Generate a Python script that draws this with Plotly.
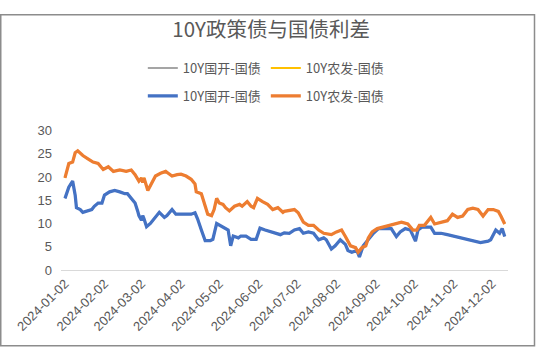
import plotly.graph_objects as go

# ---- data ----
cdb_dates = ["2024-01-02","2024-01-05","2024-01-08","2024-01-10","2024-01-11","2024-01-14","2024-01-16",
    "2024-01-19","2024-01-23","2024-01-25","2024-01-28","2024-01-31","2024-02-02","2024-02-06","2024-02-10",
    "2024-02-14","2024-02-18","2024-02-20","2024-02-23","2024-02-26","2024-02-28","2024-02-29","2024-03-02",
    "2024-03-03","2024-03-04","2024-03-06","2024-03-09","2024-03-13","2024-03-16","2024-03-20","2024-03-22",
    "2024-03-26","2024-03-29","2024-04-02","2024-04-06","2024-04-10","2024-04-13","2024-04-15","2024-04-18",
    "2024-04-21","2024-04-25","2024-04-27","2024-04-30","2024-05-02","2024-05-06","2024-05-09","2024-05-11",
    "2024-05-13","2024-05-17","2024-05-19","2024-05-23","2024-05-27","2024-05-31","2024-06-03","2024-06-07",
    "2024-06-11","2024-06-15","2024-06-19","2024-06-22","2024-06-26","2024-06-30","2024-07-04","2024-07-07",
    "2024-07-11","2024-07-15","2024-07-19","2024-07-23","2024-07-25","2024-07-29","2024-08-01","2024-08-05",
    "2024-08-09","2024-08-11","2024-08-14","2024-08-18","2024-08-20","2024-08-23","2024-08-27","2024-08-31",
    "2024-09-04","2024-09-09","2024-09-14","2024-09-18","2024-09-21","2024-09-25","2024-09-29","2024-10-03",
    "2024-10-05","2024-10-08","2024-10-12","2024-10-15","2024-10-18","2024-10-23","2024-10-28","2024-11-03",
    "2024-11-08","2024-11-13","2024-11-18","2024-11-23","2024-11-29","2024-12-01","2024-12-05","2024-12-08",
    "2024-12-10","2024-12-12"]
cdb_spread = [15.4,17.8,19.1,16.1,13.4,13.0,12.4,12.7,13.0,13.7,14.4,14.4,16.1,16.8,17.1,16.8,16.4,16.4,15.4,
    14.4,12.7,11.7,10.7,11.7,11.0,9.3,10.0,11.3,12.4,11.3,11.7,13.0,12.0,12.0,12.0,12.0,12.3,11.0,8.6,6.3,6.3,
    6.6,10.0,9.7,9.0,8.6,5.2,7.3,6.9,7.3,7.3,6.6,6.6,9.0,8.6,8.3,8.0,7.6,8.0,7.9,8.6,8.9,7.9,8.2,7.9,6.5,6.9,
    6.5,4.5,5.2,6.5,5.5,4.2,3.8,4.2,2.8,5.2,6.5,7.9,8.9,8.9,8.9,7.2,8.2,8.9,8.6,6.2,8.6,9.2,9.2,9.2,7.9,7.9,
    7.6,7.2,6.9,6.5,6.2,5.9,6.2,6.5,8.6,7.9,8.9,7.2]

adbc_dates = ["2024-01-02","2024-01-05","2024-01-08","2024-01-10","2024-01-12","2024-01-16","2024-01-20",
    "2024-01-24","2024-01-28","2024-02-01","2024-02-05","2024-02-09","2024-02-14","2024-02-19","2024-02-23",
    "2024-02-26","2024-02-29","2024-03-02","2024-03-03","2024-03-04","2024-03-07","2024-03-09","2024-03-13",
    "2024-03-17","2024-03-21","2024-03-23","2024-03-26","2024-03-30","2024-04-02","2024-04-06","2024-04-10",
    "2024-04-13","2024-04-14","2024-04-18","2024-04-21","2024-04-23","2024-04-26","2024-04-28","2024-04-30",
    "2024-05-02","2024-05-05","2024-05-07","2024-05-10","2024-05-14","2024-05-18","2024-05-20","2024-05-24",
    "2024-05-27","2024-05-29","2024-06-01","2024-06-05","2024-06-09","2024-06-13","2024-06-17","2024-06-21",
    "2024-06-22","2024-06-30","2024-07-03","2024-07-07","2024-07-11","2024-07-15","2024-07-19","2024-07-23",
    "2024-07-27","2024-07-29","2024-08-02","2024-08-06","2024-08-09","2024-08-13","2024-08-17","2024-08-19",
    "2024-08-22","2024-08-25","2024-08-27","2024-08-30","2024-09-03","2024-09-07","2024-09-12","2024-09-17",
    "2024-09-22","2024-09-27","2024-10-01","2024-10-04","2024-10-06","2024-10-10","2024-10-15","2024-10-18",
    "2024-10-23","2024-10-28","2024-11-01","2024-11-05","2024-11-09","2024-11-13","2024-11-17","2024-11-21",
    "2024-11-25","2024-11-29","2024-12-03","2024-12-07","2024-12-09","2024-12-12"]
adbc_spread = [19.8,22.9,23.2,25.2,25.6,24.6,23.9,23.2,22.9,21.6,22.2,21.2,21.5,21.2,21.5,20.5,19.1,19.8,18.8,
    19.8,17.1,18.1,20.2,20.8,21.2,20.8,20.2,20.5,20.6,20.2,19.5,18.5,16.8,16.4,13.4,12.0,11.7,13.0,15.4,14.4,
    14.1,13.4,12.7,13.7,14.1,13.7,14.7,13.7,13.4,15.4,14.7,14.1,13.0,13.4,12.4,12.6,13.0,12.3,10.3,9.6,9.6,
    8.6,7.9,7.6,7.6,8.2,8.6,7.2,5.2,4.8,3.8,4.8,5.2,6.9,8.2,8.9,9.2,9.6,9.9,10.3,9.9,8.6,8.6,9.6,9.6,11.3,
    9.9,10.3,10.6,12.0,11.3,11.6,13.0,13.3,13.0,11.6,13.0,13.0,12.6,11.6,9.9]

tick_dates = ["2024-01-02","2024-02-02","2024-03-02","2024-04-02","2024-05-02","2024-06-02",
              "2024-07-02","2024-08-02","2024-09-02","2024-10-02","2024-11-02","2024-12-02"]
y_ticks = [0, 5, 10, 15, 20, 25, 30]

name_cdb = "10Y国开-国债"
name_adbc = "10Y农发-国债"

TXT = "#595959"
FONT = "Noto Sans CJK SC"

fig = go.Figure()
# first legend row (thin gray / yellow series, hidden under the thick ones)
fig.add_trace(go.Scatter(x=cdb_dates, y=cdb_spread, mode="lines", name=name_cdb,
                         line=dict(color="#A5A5A5", width=2), legend="legend", hoverinfo="skip"))
fig.add_trace(go.Scatter(x=adbc_dates, y=adbc_spread, mode="lines", name=name_adbc,
                         line=dict(color="#FFC000", width=2), legend="legend", hoverinfo="skip"))
# second legend row
fig.add_trace(go.Scatter(x=cdb_dates, y=cdb_spread, mode="lines", name=name_cdb,
                         line=dict(color="#4472C4", width=3.25), legend="legend2"))
fig.add_trace(go.Scatter(x=adbc_dates, y=adbc_spread, mode="lines", name=name_adbc,
                         line=dict(color="#ED7D31", width=3.25), legend="legend2"))

L, R = 61, 508
T, B = 123, 270.5
W, H = 537, 352
pw, ph = R - L, B - T

def px(x):
    return (x - L) / pw

def py(y):
    return (B - y) / ph

leg_common = dict(orientation="h", xref="container", yref="container", x=0.495, xanchor="center",
                  yanchor="middle", font=dict(size=13, color=TXT), bgcolor="rgba(0,0,0,0)",
                  itemwidth=30, entrywidth=78, entrywidthmode="pixels")

fig.update_layout(
    width=W, height=H,
    margin=dict(l=L, r=W - R, t=T, b=H - B, pad=0),
    paper_bgcolor="white", plot_bgcolor="white",
    font=dict(family=FONT, color=TXT, size=13),
    title=dict(text="10Y政策债与国债利差", x=0.505, xref="container", xanchor="center",
               y=1 - 30 / H, yref="container", yanchor="middle",
               font=dict(size=20.5, color=TXT, family=FONT)),
    legend=dict(y=1 - 68 / H, **leg_common),
    legend2=dict(y=1 - 96 / H, **leg_common),
    xaxis=dict(type="date", range=["2023-12-29T21:00", "2024-12-14T14:00"],
               tickmode="array", tickvals=tick_dates, ticktext=tick_dates, tickangle=-45,
               showgrid=False, zeroline=False, showline=True, linecolor="#D9D9D9", linewidth=1,
               ticks="", tickfont=dict(size=13, color=TXT, family="Liberation Sans")),
    yaxis=dict(range=[0, 30], tickmode="array", tickvals=y_ticks, showgrid=False, zeroline=False,
               showline=False, ticks="", ticklabelstandoff=8,
               tickfont=dict(size=13, color=TXT, family="Liberation Sans")),
    shapes=[dict(type="rect", xref="paper", yref="paper", x0=px(0.75), x1=px(534.5),
                 y0=py(350.5), y1=py(0.75), line=dict(color="#8C8C8C", width=1.5),
                 fillcolor="rgba(0,0,0,0)", layer="below")],
    showlegend=True,
)

fig.write_html("out.html")
